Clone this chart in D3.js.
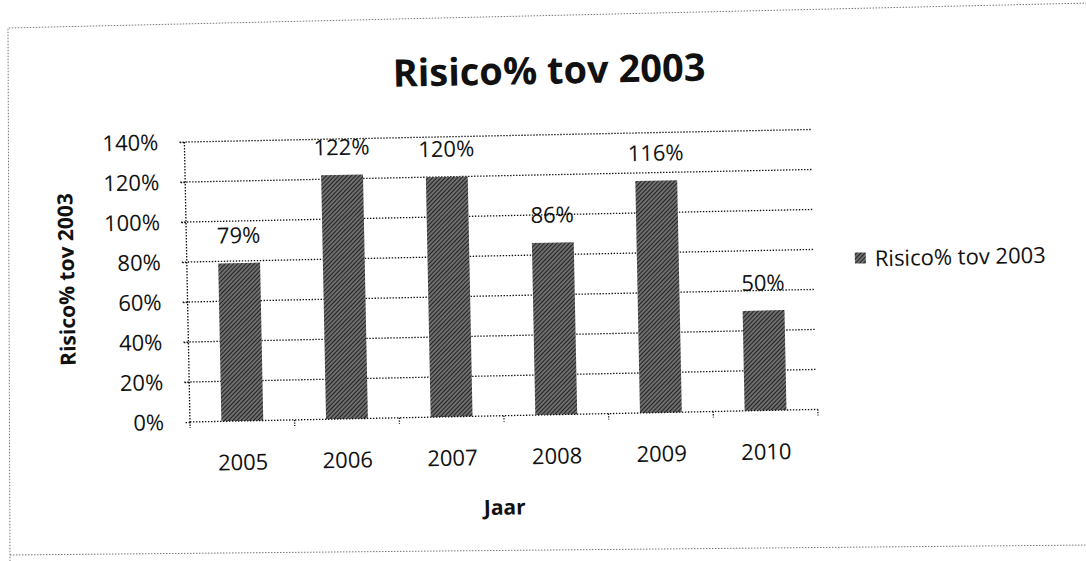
<!DOCTYPE html>
<html>
<head>
<meta charset="utf-8">
<script src="https://cdn.jsdelivr.net/npm/d3@7"></script>
<style>
  body { margin: 0; background: #fff; }
  svg { display: block; font-family: "Open Sans", sans-serif; }
</style>
</head>
<body>
<svg width="1086" height="561"></svg>
<script>
// chart data
var years = ["2005", "2006", "2007", "2008", "2009", "2010"];
var risico = [0.79, 1.22, 1.20, 0.86, 1.16, 0.50];
var yTicks = [0, 0.2, 0.4, 0.6, 0.8, 1.0, 1.2, 1.4];
var seriesName = "Risico% tov 2003";

var svg = d3.select("svg");
var ox = 190, oy = 422;          // plot origin (0%, left)
var plotW = 628, plotH = 280;

var defs = svg.append("defs");
var pat = defs.append("pattern")
    .attr("id", "hatch")
    .attr("patternUnits", "userSpaceOnUse")
    .attr("width", 3).attr("height", 3)
    .attr("patternTransform", "rotate(45)");
pat.append("rect").attr("width", 3).attr("height", 3).attr("fill", "#6e6e6e");
pat.append("line").attr("x1", 0).attr("y1", 0).attr("x2", 0).attr("y2", 3)
    .attr("stroke", "#151515").attr("stroke-width", 1.7);

// outer frame of the scanned page (skewed unevenly, so drawn on its own)
svg.append("path")
    .attr("d", "M1090,3 L8,28 L10,561 M10,555 L1090,545")
    .attr("fill", "none")
    .attr("stroke", "#777")
    .attr("stroke-width", 1)
    .attr("stroke-dasharray", "1.5,1.5");

// the chart itself is tilted a little, rotate round the plot origin
var root = svg.append("g")
    .attr("transform", "rotate(-1.15," + ox + "," + oy + ")");

root.append("text")
    .attr("x", 556).attr("y", 91)
    .attr("text-anchor", "middle")
    .attr("font-size", 38).attr("font-weight", "bold")
    .attr("fill", "#111")
    .text(seriesName);

var x = d3.scaleBand()
    .domain(years)
    .range([ox, ox + plotW])
    .paddingInner(0.6)
    .paddingOuter(0.3);

var y = d3.scaleLinear()
    .domain([0, 1.4])
    .range([oy, oy - plotH]);

// gridlines
root.append("g").selectAll("line")
    .data(yTicks.filter(function (d) { return d > 0; }))
    .enter().append("line")
    .attr("x1", ox - 5).attr("x2", ox + plotW)
    .attr("y1", function (d) { return y(d); })
    .attr("y2", function (d) { return y(d); })
    .attr("stroke", "#111")
    .attr("stroke-width", 1.3)
    .attr("stroke-dasharray", "1.4,1.6");

// y axis
var yAxis = root.append("g")
    .attr("transform", "translate(" + ox + ",0)")
    .call(d3.axisLeft(y).tickValues(yTicks).tickFormat(d3.format(".0%")).tickSize(5).tickPadding(21));
yAxis.selectAll("path, line")
    .attr("stroke", "#111").attr("stroke-width", 1.3).attr("stroke-dasharray", "1.4,1.6");
yAxis.select(".domain").attr("d", "M0," + y(1.4) + "V" + oy);
yAxis.selectAll("text")
    .attr("font-family", "Open Sans").attr("font-size", 22).attr("fill", "#111");

// bars
root.append("g").selectAll("rect")
    .data(risico)
    .enter().append("rect")
    .attr("x", function (d, i) { return x(years[i]); })
    .attr("y", function (d) { return y(d); })
    .attr("width", x.bandwidth())
    .attr("height", function (d) { return oy - y(d); })
    .attr("fill", "url(#hatch)");

// data labels
root.append("g").selectAll("text")
    .data(risico)
    .enter().append("text")
    .attr("x", function (d, i) { return x(years[i]) + x.bandwidth() / 2; })
    .attr("y", function (d) { return y(d) - 20; })
    .attr("text-anchor", "middle")
    .attr("font-size", 22).attr("fill", "#111")
    .text(function (d) { return Math.round(d * 100) + "%"; });

// x axis with ticks between categories
var step = plotW / years.length;
var xAxis = root.append("g").attr("transform", "translate(0," + oy + ")");
xAxis.append("line")
    .attr("x1", ox).attr("x2", ox + plotW)
    .attr("stroke", "#111").attr("stroke-width", 1.3).attr("stroke-dasharray", "1.4,1.6");
xAxis.selectAll(".tk")
    .data(d3.range(years.length + 1))
    .enter().append("line")
    .attr("class", "tk")
    .attr("x1", function (i) { return ox + i * step; })
    .attr("x2", function (i) { return ox + i * step; })
    .attr("y1", 0).attr("y2", 6)
    .attr("stroke", "#111").attr("stroke-width", 1.3).attr("stroke-dasharray", "1.3,1.3");
xAxis.selectAll(".lbl")
    .data(years)
    .enter().append("text")
    .attr("class", "lbl")
    .attr("x", function (d) { return x(d) + x.bandwidth() / 2; })
    .attr("y", 49)
    .attr("text-anchor", "middle")
    .attr("font-size", 22).attr("fill", "#111")
    .text(function (d) { return d; });

// axis titles
root.append("text")
    .attr("x", 503).attr("y", 521)
    .attr("text-anchor", "middle")
    .attr("font-size", 21).attr("font-weight", "bold").attr("fill", "#111")
    .text("Jaar");

root.append("text")
    .attr("transform", "translate(77,277) rotate(-90)")
    .attr("text-anchor", "middle")
    .attr("font-size", 21).attr("font-weight", "bold").attr("fill", "#111")
    .text(seriesName);

// legend
var leg = root.append("g").attr("transform", "translate(858,272)");
leg.append("rect")
    .attr("x", 0).attr("y", -6).attr("width", 11).attr("height", 11)
    .attr("fill", "url(#hatch)");
leg.append("text")
    .attr("x", 20).attr("y", 8)
    .attr("font-size", 22).attr("fill", "#111")
    .text(seriesName);
</script>
</body>
</html>
